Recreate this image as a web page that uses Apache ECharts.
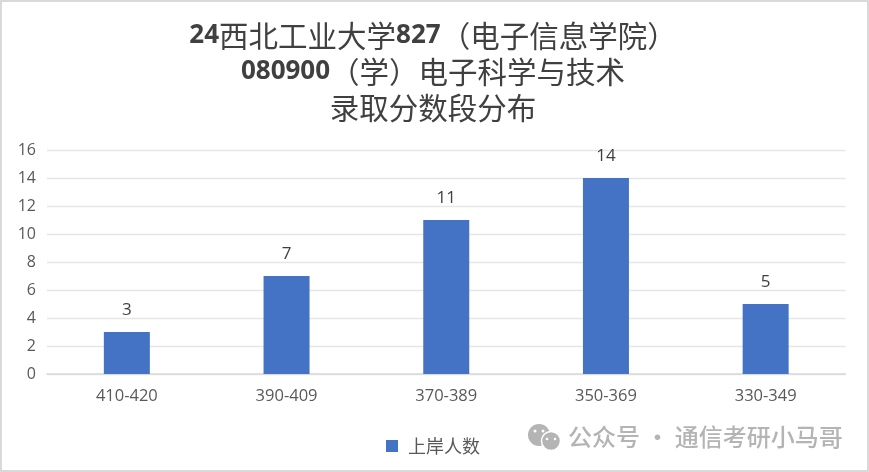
<!DOCTYPE html>
<html><head><meta charset="utf-8">
<style>html,body{margin:0;padding:0;background:#fff}#c{width:869px;height:472px}</style>
<script src="https://cdn.jsdelivr.net/npm/echarts@6/dist/echarts.min.js"></script>
</head><body><div id="c"></div>
<script>
const categories = ['410-420','390-409','370-389','350-369','330-349'];
const admitted = [3,7,11,14,5];
const seriesName = '上岸人数';
const yTicksMax = 16;
const cjk = '"Noto Sans CJK SC"';
const latin = '"Open Sans","Noto Sans"';
const chart = echarts.init(document.getElementById('c'),null,{renderer:'canvas'});
chart.setOption({
  animation:false,
  backgroundColor:'#fff',
  title:{
    left:428, top:13, textAlign:'center',
    text:'{d|24}{c|西北工业大学}{d|827}{c|（电子信息学院）}\n{d|080900}{c|（学）电子科学与技术}\n{c|录取分数段分布}',
    textStyle:{rich:{
      d:{fontFamily:latin,fontWeight:'bold',fontSize:26,color:'#404040',lineHeight:36},
      c:{fontFamily:cjk,fontWeight:'normal',fontSize:29.5,color:'#404040',lineHeight:36}
    }}
  },
  legend:{
    left:381, top:432, itemWidth:12, itemHeight:12, icon:'rect', itemGap:8,
    textStyle:{fontFamily:cjk,fontSize:18,color:'#595959',padding:[0,0,0,5]}
  },
  grid:{left:47,right:23.5,top:150,bottom:98},
  xAxis:{
    type:'category',data:categories,
    axisTick:{show:false},
    axisLine:{lineStyle:{color:'#d9d9d9',width:1.5}},
    axisLabel:{fontFamily:latin,fontSize:16.5,color:'#595959',margin:14}
  },
  yAxis:{
    type:'value',min:0,max:yTicksMax,interval:2,
    axisLine:{show:false},axisTick:{show:false},
    splitLine:{lineStyle:{color:'#e6e6e6',width:1.3}},
    axisLabel:{fontFamily:latin,fontSize:16,color:'#595959',margin:11}
  },
  series:[{
    name:seriesName,type:'bar',data:admitted,barWidth:46,
    itemStyle:{color:'#4472c4'},
    label:{show:true,position:'top',distance:13,fontFamily:latin,fontSize:17,color:'#404040'}
  }],
  graphic:[
    {type:'rect',silent:true,z:-1,shape:{x:1,y:1,width:867,height:470},style:{fill:'none',stroke:'#d9d9d9',lineWidth:2}},
    {type:'circle',silent:true,shape:{cx:539,cy:435,r:11},style:{fill:'#b4b4b4'}},
    {type:'circle',silent:true,shape:{cx:551,cy:441,r:9.5},style:{fill:'#b4b4b4',stroke:'#fff',lineWidth:1.5}},
    {type:'circle',silent:true,shape:{cx:535,cy:431,r:1.5},style:{fill:'#fff'}},
    {type:'circle',silent:true,shape:{cx:543,cy:431,r:1.5},style:{fill:'#fff'}},
    {type:'circle',silent:true,shape:{cx:547,cy:439,r:1.3},style:{fill:'#fff'}},
    {type:'circle',silent:true,shape:{cx:555,cy:439,r:1.3},style:{fill:'#fff'}},
    {type:'text',silent:true,style:{x:568,y:437,text:'公众号 · 通信考研小马哥',fill:'#b4b4b4',font:'500 24px '+cjk,verticalAlign:'middle'}}
  ]
});
</script></body></html>
